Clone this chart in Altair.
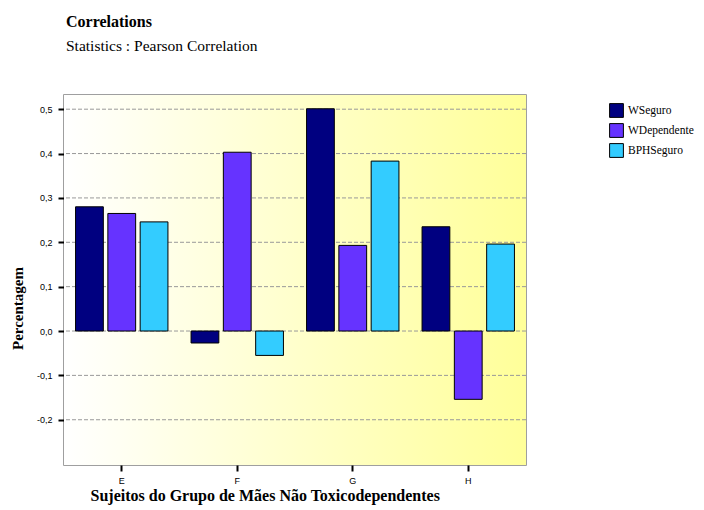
import altair as alt
import pandas as pd

groups = ["E", "F", "G", "H"]
series = ["WSeguro", "WDependente", "BPHSeguro"]
wseguro = [0.280, -0.027, 0.501, 0.235]
wdependente = [0.265, 0.403, 0.193, -0.154]
bphseguro = [0.246, -0.055, 0.383, 0.196]
y_ticks = [-0.2, -0.1, 0.0, 0.1, 0.2, 0.3, 0.4, 0.5]
colors = ["#000080", "#6633FF", "#33CCFF"]

rows = []
for s, vals in zip(series, [wseguro, wdependente, bphseguro]):
    for g, v in zip(groups, vals):
        rows.append({"grupo": g, "serie": s, "valor": v})
df = pd.DataFrame(rows)
grid_df = pd.DataFrame({"valor": y_ticks})

W, H = 462, 370
ydom = [-0.302, 0.532]
yscale = alt.Scale(domain=ydom, nice=False, zero=False)

yaxis = alt.Axis(
    values=y_ticks,
    grid=False,
    domain=False,
    tickColor="black",
    tickSize=6,
    tickWidth=2,
    labelFont="Liberation Sans",
    labelFontSize=9,
    labelColor="black",
    labelPadding=6,
    labelExpr="(datum.value < 0 ? '-' : '') + replace(format(abs(datum.value), '.1f'), '.', ',')",
    title="Percentagem",
    titleFont="Liberation Serif",
    titleFontSize=15,
    titleFontWeight="bold",
    titleColor="black",
    titleX=-39,
    titleY=213,
    titleAngle=270,
    titleAlign="center",
    titleBaseline="bottom",
)

bg = alt.Chart(pd.DataFrame({"a": [0]})).mark_rect(
    fill=alt.Gradient(
        gradient="linear",
        stops=[alt.GradientStop(color="#ffffff", offset=0),
               alt.GradientStop(color="#ffff99", offset=1)],
        x1=0, x2=1, y1=0, y2=0,
    )
).encode(x=alt.value(0), x2=alt.value(W), y=alt.value(0), y2=alt.value(H))

grid = alt.Chart(grid_df).mark_rule(
    color="#999999", strokeDash=[4, 2], strokeWidth=1
).encode(y=alt.Y("valor:Q", scale=yscale, axis=yaxis))

bars = alt.Chart(df).mark_bar(stroke="black", strokeWidth=1).encode(
    x=alt.X(
        "grupo:N",
        sort=groups,
        scale=alt.Scale(paddingInner=0.2, paddingOuter=0.1),
        axis=alt.Axis(
            labelAngle=0,
            domain=False,
            grid=False,
            ticks=True,
            tickColor="black",
            tickSize=6,
            tickWidth=2,
            labelFont="Liberation Sans",
            labelFontSize=9,
            labelColor="black",
            labelPadding=5,
            labelBaseline="top",
            title="Sujeitos do Grupo de Mães Não Toxicodependentes",
            titleFont="Liberation Serif",
            titleFontSize=16,
            titleFontWeight="bold",
            titleColor="black",
            titleAnchor="start",
            titleAlign="left",
            titleX=26,
            titleY=35,
            titleBaseline="alphabetic",
        ),
    ),
    xOffset=alt.XOffset("serie:N", sort=series, scale=alt.Scale(paddingInner=0.14)),
    y=alt.Y("valor:Q", scale=yscale, axis=yaxis),
    color=alt.Color(
        "serie:N",
        sort=series,
        scale=alt.Scale(domain=series, range=colors),
        legend=alt.Legend(
            title=None,
            orient="none",
            legendX=545,
            legendY=8,
            padding=0,
            symbolType="square",
            symbolSize=190,
            symbolStrokeColor="black",
            symbolStrokeWidth=1,
            symbolOpacity=1,
            labelFont="Liberation Serif",
            labelFontSize=11.5,
            labelColor="black",
            rowPadding=1,
            labelOffset=4,
            labelLimit=120,
        ),
    ),
)

chart = alt.layer(bg, grid, bars).properties(
    width=W,
    height=H,
    padding={"left": 56, "top": 87, "right": 170, "bottom": 40},
    autosize=alt.AutoSizeParams(type="none"),
    title=alt.TitleParams(
        "Correlations",
        subtitle="Statistics : Pearson Correlation",
        anchor="start",
        frame="group",
        font="Liberation Serif",
        fontSize=16,
        fontWeight="bold",
        color="black",
        subtitleFont="Liberation Serif",
        subtitleFontSize=15.5,
        subtitleColor="black",
        subtitlePadding=9,
        offset=41,
        dx=2,
    ),
).configure_view(stroke="#808080", strokeWidth=1.5)

chart.save("out.html", embed_options={"renderer": "svg", "actions": False})
